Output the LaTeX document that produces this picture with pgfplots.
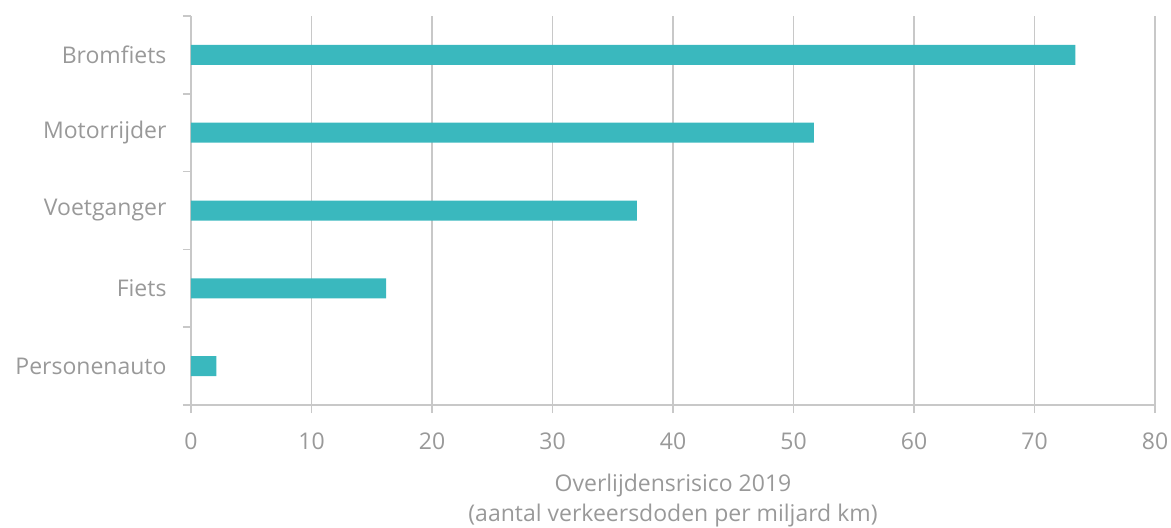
\documentclass[border=0pt]{standalone}
\usepackage{pgfplots}
\pgfplotsset{compat=1.18}
\usepackage{fontspec}
\setmainfont{Open Sans}
\definecolor{barc}{HTML}{3AB8BE}
\definecolor{gridc}{HTML}{C8C8C8}
\definecolor{txt}{HTML}{999999}
\begin{document}
\begin{tikzpicture}[font=\fontsize{23bp}{30bp}\selectfont]
\path[use as bounding box] (-191bp,-123bp) rectangle (980bp,405bp);
\begin{axis}[
  at={(0,0)}, anchor=south west,
  scale only axis, width=964bp, height=389bp,
  xmin=0, xmax=80, ymin=-0.5, ymax=4.5,
  xtick={0,10,...,80},
  ytick={-0.5,0.5,1.5,2.5,3.5,4.5},
  yticklabels={Personenauto,Fiets,Voetganger,Motorrijder,Bromfiets},
  y tick label as interval,
  axis x line*=bottom, axis y line*=left,
  axis line style={gridc, line width=1.6bp, -},
  tick style={gridc, line width=1.6bp},
  major tick length=8bp,
  tick align=outside,
  xmajorgrids, grid style={gridc, line width=1.6bp},
  /pgf/number format/assume math mode=true,
  tick label style={txt},
  xticklabel style={yshift=-16bp},
  yticklabel style={xshift=-13bp},
  xlabel={Overlijdensrisico 2019\\(aantal verkeersdoden per miljard km)},
  xlabel style={txt, align=center, yshift=-18bp},
  xbar, bar width=20bp,
]
\addplot[fill=barc, draw=none] coordinates {(2.1,0) (16.2,1) (37.0,2) (51.7,3) (73.4,4)};
\end{axis}
\end{tikzpicture}
\end{document}
